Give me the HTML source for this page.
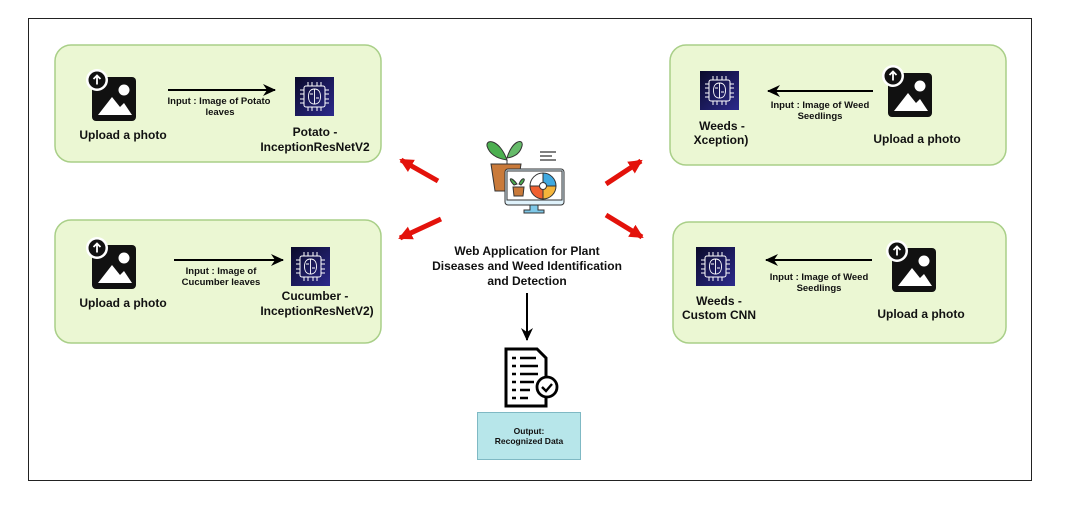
<!DOCTYPE html>
<html><head><meta charset="utf-8"><style>
html,body{margin:0;padding:0;background:#fff;}
svg{display:block;font-family:"Liberation Sans",Arial,sans-serif;}
.lbl{font-weight:bold;font-size:12px;fill:#111;}
.sm{font-weight:bold;font-size:9.5px;fill:#111;}
</style></head><body>
<svg width="1069" height="506" viewBox="0 0 1069 506" xmlns="http://www.w3.org/2000/svg">
<defs>
  <g id="up">
    <rect x="0" y="0" width="44" height="44" rx="4" fill="#111"/>
    <polygon points="6,38 20,20 28,30 32,26 40,38" fill="#fff"/>
    <circle cx="32" cy="13" r="5.5" fill="#fff"/>
    <circle cx="5" cy="3" r="11" fill="#fff"/>
    <circle cx="5" cy="3" r="8.5" fill="#111"/>
    <path d="M5 7.5 V-1 M1.5 2 L5 -1.5 L8.5 2" stroke="#fff" stroke-width="1.8" fill="none"/>
  </g>
  <linearGradient id="cg" x1="0" y1="0" x2="1" y2="1">
    <stop offset="0" stop-color="#0a0a2a"/><stop offset="1" stop-color="#2c2a8c"/>
  </linearGradient>
  <g id="chip">
    <rect x="0" y="0" width="39" height="39" fill="url(#cg)"/>
    <rect x="9" y="9" width="21" height="21" rx="2" fill="none" stroke="#fff" stroke-width="1"/>
    <path d="M13 5v4M17 5v4M22 5v4M26 5v4M13 30v4M17 30v4M22 30v4M26 30v4M5 13h4M5 17h4M5 22h4M5 26h4M30 13h4M30 17h4M30 22h4M30 26h4" stroke="#fff" stroke-width="1"/>
    <path d="M19.5 12c-4 0-6 3-6 7.5s2 7.5 6 7.5 6-3 6-7.5-2-7.5-6-7.5zM19.5 12v15M15 17h3M21 21h3" stroke="#fff" stroke-width="0.9" fill="none"/>
  </g>
  <marker id="ah" markerWidth="13" markerHeight="12" refX="12" refY="6" orient="auto" markerUnits="userSpaceOnUse">
    <path d="M0 0 L13 6 L0 12 L4 6 Z" fill="#000"/>
  </marker>
  <marker id="rh" markerWidth="14" markerHeight="14" refX="12" refY="7" orient="auto" markerUnits="userSpaceOnUse">
    <path d="M0 0 L14 7 L0 14 Z" fill="#e3120b"/>
  </marker>
</defs>

<rect x="28.5" y="18.5" width="1003" height="462" fill="#fff" stroke="#222" stroke-width="1"/>

<!-- boxes -->
<g fill="#ebf7d3" stroke="#a9cf88" stroke-width="1.5">
<rect x="55" y="45" width="326" height="117" rx="16"/>
<rect x="55" y="220" width="326" height="123" rx="16"/>
<rect x="670" y="45" width="336" height="120" rx="16"/>
<rect x="673" y="222" width="333" height="121" rx="16"/>
</g>

<!-- TL -->
<use href="#up" x="92" y="77"/>
<text class="lbl" x="123" y="139" text-anchor="middle">Upload a photo</text>
<line x1="168" y1="90" x2="275" y2="90" stroke="#000" stroke-width="2" marker-end="url(#ah)"/>
<text class="sm" x="219" y="104" text-anchor="middle">Input : Image of  Potato</text>
<text class="sm" x="220" y="115" text-anchor="middle">leaves</text>
<use href="#chip" x="295" y="77"/>
<text class="lbl" x="315" y="136" text-anchor="middle">Potato -</text>
<text class="lbl" x="315" y="151" text-anchor="middle">InceptionResNetV2</text>

<!-- BL -->
<use href="#up" x="92" y="245"/>
<text class="lbl" x="123" y="307" text-anchor="middle">Upload a photo</text>
<line x1="174" y1="260" x2="283" y2="260" stroke="#000" stroke-width="2" marker-end="url(#ah)"/>
<text class="sm" x="221" y="274" text-anchor="middle">Input : Image of</text>
<text class="sm" x="221" y="285" text-anchor="middle">Cucumber leaves</text>
<use href="#chip" x="291" y="247"/>
<text class="lbl" x="315" y="300" text-anchor="middle">Cucumber -</text>
<text class="lbl" x="317" y="315" text-anchor="middle">InceptionResNetV2)</text>

<!-- TR -->
<use href="#chip" x="700" y="71"/>
<text class="lbl" x="722" y="130" text-anchor="middle">Weeds -</text>
<text class="lbl" x="721" y="144" text-anchor="middle">Xception)</text>
<line x1="873" y1="91" x2="768" y2="91" stroke="#000" stroke-width="2" marker-end="url(#ah)"/>
<text class="sm" x="820" y="108" text-anchor="middle">Input : Image of Weed</text>
<text class="sm" x="820" y="119" text-anchor="middle">Seedlings</text>
<use href="#up" x="888" y="73"/>
<text class="lbl" x="917" y="143" text-anchor="middle">Upload a photo</text>

<!-- BR -->
<use href="#chip" x="696" y="247"/>
<text class="lbl" x="719" y="305" text-anchor="middle">Weeds -</text>
<text class="lbl" x="719" y="319" text-anchor="middle">Custom CNN</text>
<line x1="872" y1="260" x2="766" y2="260" stroke="#000" stroke-width="2" marker-end="url(#ah)"/>
<text class="sm" x="819" y="280" text-anchor="middle">Input : Image of Weed</text>
<text class="sm" x="819" y="291" text-anchor="middle">Seedlings</text>
<use href="#up" x="892" y="248"/>
<text class="lbl" x="921" y="318" text-anchor="middle">Upload a photo</text>

<!-- red arrows -->
<line x1="438" y1="181" x2="401" y2="160" stroke="#e3120b" stroke-width="5" marker-end="url(#rh)"/>
<line x1="441" y1="219" x2="400" y2="238" stroke="#e3120b" stroke-width="5" marker-end="url(#rh)"/>
<line x1="606" y1="184" x2="641" y2="161" stroke="#e3120b" stroke-width="5" marker-end="url(#rh)"/>
<line x1="606" y1="215" x2="642" y2="237" stroke="#e3120b" stroke-width="5" marker-end="url(#rh)"/>

<!-- central icon -->
<g stroke="#333" stroke-width="1">
  <path d="M507 160 C500 140 486 138 487 146 C490 156 500 159 507 160Z" fill="#4caf50"/>
  <path d="M507 158 C512 140 524 138 522 146 C520 154 514 157 507 158Z" fill="#66bb6a"/>
  <line x1="507" y1="160" x2="507" y2="166"/>
  <path d="M491 164 H521 L517 191 H495 Z" fill="#c97a3a"/>
  <rect x="505" y="169" width="59" height="36" rx="3" fill="#dff2fb"/>
  <rect x="507" y="171" width="55" height="29" fill="#fff"/>
  <path d="M530 205 h8 v5 h6 v3 h-20 v-3 h6z" fill="#7ec8e8"/>
  <path d="M517 184 C511 176 507 178 514 185Z M519 184 C522 176 528 178 521 185Z" fill="#4caf50"/>
  <path d="M513 187 h11 l-1 9 h-9z" fill="#c97a3a"/>
  <path d="M543 173 A13 13 0 0 1 556 186 L543 186Z" fill="#3fa9e0"/>
  <path d="M556 186 A13 13 0 0 1 543 199 L543 186Z" fill="#f5b53b"/>
  <path d="M543 199 A13 13 0 0 1 530 186 L543 186Z" fill="#f06030"/>
  <path d="M530 186 A13 13 0 0 1 543 173 L543 186Z" fill="#ffffff"/>
  <circle cx="543" cy="186" r="3.5" fill="#fff"/>
</g>
<path d="M540 152h16M540 156h12M540 160h16" stroke="#333" stroke-width="1.2"/>

<text class="lbl" x="527" y="255" text-anchor="middle">Web Application for Plant</text>
<text class="lbl" x="527" y="270" text-anchor="middle">Diseases and Weed Identification</text>
<text class="lbl" x="527" y="285" text-anchor="middle">and Detection</text>

<line x1="527" y1="293" x2="527" y2="340" stroke="#000" stroke-width="2" marker-end="url(#ah)"/>

<!-- document icon -->
<path d="M506 349 H537 L546 358 V406 H506 Z" fill="#fff" stroke="#000" stroke-width="3"/>
<path d="M512 358h4M520 358h16M512 366h4M520 366h18M512 374h4M520 374h18M512 382h4M520 382h14M512 390h4M520 390h10M512 398h4M520 398h8" stroke="#000" stroke-width="2.4"/>
<circle cx="547" cy="387" r="10" fill="#fff" stroke="#000" stroke-width="2.8"/>
<path d="M542 387 l4 4 l6 -7" stroke="#000" stroke-width="2.4" fill="none"/>

<rect x="477.5" y="412.5" width="103" height="47" fill="#b7e6ea" stroke="#7fb9c4" stroke-width="1"/>
<text x="529" y="434" text-anchor="middle" font-size="8.5" font-weight="bold" fill="#111">Output:</text>
<text x="529" y="444" text-anchor="middle" font-size="8.5" font-weight="bold" fill="#111">Recognized Data</text>
</svg>
</body></html>
